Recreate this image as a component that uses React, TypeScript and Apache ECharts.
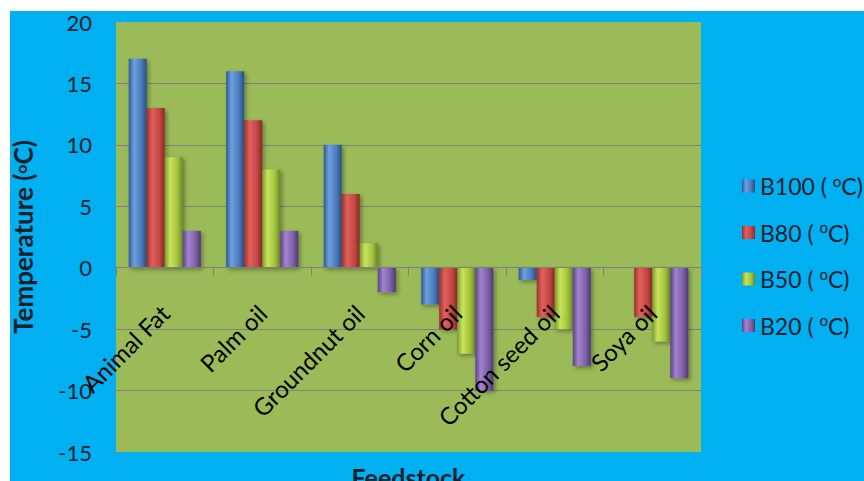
import React, { useEffect, useRef } from "react";
import * as echarts from "echarts";

// Cloud point temperatures per feedstock and blend
const categories = [
  "Animal Fat",
  "Palm oil",
  "Groundnut oil",
  "Corn oil",
  "Cotton seed oil",
  "Soya oil",
];
const blendNames = ["B100", "B80", "B50", "B20"];
const b100 = [17, 16, 10, -3, -1, 0];
const b80 = [13, 12, 6, -5, -4, -4];
const b50 = [9, 8, 2, -7, -5, -6];
const b20 = [3, 3, -2, -10, -8, -9];
const yMin = -15;
const yMax = 20;
const yStep = 5;

const FONT = "Lato, 'Open Sans', sans-serif";
const TEXT = "#16202c";

// Bevelled look: dark edges, lighter band left of centre
const palettes = [
  ["#2f5a93", "#6f9fdc", "#4a7bbd", "#2a4f80"],
  ["#9b2f2c", "#e0605c", "#c44845", "#8a2926"],
  ["#7c9a2c", "#c8e45c", "#a3c33e", "#6b8626"],
  ["#5c4283", "#a283cf", "#7f61a8", "#4f3873"],
];

const bevel = (c: string[]) =>
  new echarts.graphic.LinearGradient(0, 0, 1, 0, [
    { offset: 0, color: c[0] },
    { offset: 0.3, color: c[1] },
    { offset: 0.7, color: c[2] },
    { offset: 1, color: c[3] },
  ]);

const legendRich = {
  a: { fontFamily: FONT, fontSize: 23, color: TEXT, lineHeight: 26 },
  sup: {
    fontFamily: FONT,
    fontSize: 15,
    color: TEXT,
    verticalAlign: "top" as const,
    lineHeight: 14,
  },
};

export default function App() {
  const ref = useRef<HTMLDivElement>(null);

  useEffect(() => {
    if (!ref.current) return;
    const chart = echarts.init(ref.current, undefined, { renderer: "svg" });
    const values = [b100, b80, b50, b20];

    chart.setOption({
      animation: false,
      backgroundColor: "#ffffff",
      textStyle: { fontFamily: FONT },
      // blue chart area, inset from the white page edge
      graphic: [
        {
          type: "rect",
          z: -10,
          silent: true,
          shape: { x: 10, y: 11, width: 854, height: 470 },
          style: { fill: "#00b0f0" },
        },
      ],
      grid: {
        left: 116,
        top: 22,
        right: 163,
        bottom: 29,
        show: true,
        backgroundColor: "#9bbb59",
        borderWidth: 0,
        containLabel: false,
        outerBoundsMode: "none",
      },
      legend: {
        orient: "vertical",
        left: 742,
        top: 173,
        padding: 0,
        itemWidth: 13,
        itemHeight: 13,
        itemGap: 22,
        icon: "rect",
        data: blendNames,
        formatter: (name: string) => `{a|${name} ( }{sup|o}{a|C)}`,
        textStyle: { rich: legendRich, color: TEXT },
      },
      xAxis: {
        type: "category",
        data: categories,
        z: 10,
        name: "Feedstock",
        nameLocation: "middle",
        nameGap: 12,
        nameTextStyle: {
          fontFamily: FONT,
          fontSize: 25,
          fontWeight: "bold",
          color: TEXT,
        },
        axisLine: { show: true, onZero: true, lineStyle: { color: "#7f7f7f", width: 1 } },
        axisTick: { show: true, length: 8, lineStyle: { color: "#7f7f7f" } },
        axisLabel: {
          interval: 0,
          rotate: 45,
          align: "right",
          verticalAlign: "middle",
          margin: -143,
          fontFamily: FONT,
          fontSize: 24,
          color: "#000",
        },
        splitLine: { show: false },
      },
      yAxis: {
        type: "value",
        min: yMin,
        max: yMax,
        interval: yStep,
        name: "{b|Temperature (}{s|o}{b|C)}",
        nameLocation: "middle",
        nameGap: 82,
        nameTextStyle: {
          rich: {
            b: {
              fontFamily: FONT,
              fontSize: 26,
              fontWeight: "bold",
              color: TEXT,
              lineHeight: 22,
            },
            s: {
              fontFamily: FONT,
              fontSize: 16,
              fontWeight: "bold",
              color: TEXT,
              verticalAlign: "top",
              lineHeight: 14,
            },
          },
        },
        axisLine: { show: false },
        axisTick: { show: true, length: 3, lineStyle: { color: "#7f7f7f" } },
        axisLabel: { margin: 24, fontFamily: FONT, fontSize: 22, color: TEXT },
        splitLine: {
          show: true,
          showMinLine: false,
          showMaxLine: false,
          lineStyle: { color: "#7f7f7f", width: 1 },
        },
      },
      series: blendNames.map((name, i) => ({
        name,
        type: "bar",
        data: values[i],
        barGap: "0%",
        barCategoryGap: "26%",
        itemStyle: {
          color: bevel(palettes[i]),
          shadowBlur: 4,
          shadowOffsetX: 2,
          shadowOffsetY: 2,
          shadowColor: "rgba(0,0,0,0.35)",
        },
      })),
    });

    return () => chart.dispose();
  }, []);

  return (
    <div
      ref={ref}
      style={{ position: "fixed", left: 0, top: 0, width: 864, height: 481 }}
    />
  );
}
